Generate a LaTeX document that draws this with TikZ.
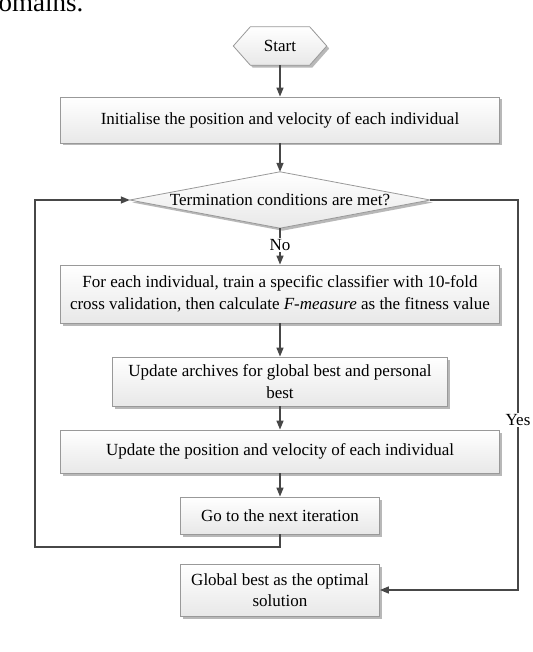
\documentclass[tikz,border=0pt]{standalone}
\usepackage{fontspec}
\setmainfont{Liberation Serif}
\usetikzlibrary{arrows.meta,shadows,calc}
\begin{document}
\begin{tikzpicture}[x=1pt,y=-1pt,
  boxlook/.style={draw=black!40, line width=0.8pt, top color=white, bottom color=black!9,
    drop shadow={shadow xshift=2.5pt,shadow yshift=-2.5pt,fill=black!28,opacity=1}},
  box/.style={boxlook, rectangle, inner sep=0pt, align=center, font=\fontsize{17}{21.5}\selectfont},
  plain/.style={inner sep=0pt, align=center, font=\fontsize{17}{21.5}\selectfont},
  conn/.style={draw=black!72, line width=1.4pt},
  arr/.style={conn, -{Triangle[length=9pt,width=7pt]}},
  lbl/.style={fill=white, inner sep=1.5pt, font=\fontsize{17}{20}\selectfont}]
\useasboundingbox (0,0) rectangle (532,652);
\begin{scope}
\clip (0,0) rectangle (532,652);
\node[anchor=base west, inner sep=0pt, font=\fontsize{27}{27}\selectfont] (dom) at (-15,12) {domains.};
\end{scope}

% Start hexagon
\node[plain, minimum width=93pt, minimum height=38pt] (start) at (280,46) {};
\path[boxlook] (start.west) -- ([xshift=17pt]start.north west) -- ([xshift=-17pt]start.north east)
  -- (start.east) -- ([xshift=-17pt]start.south east) -- ([xshift=17pt]start.south west) -- cycle;
\node[plain] at (start) {Start};

\node[box, minimum width=439pt, minimum height=46pt] (init) at (280,120)
  {Initialise the position and velocity of each individual};

% Decision diamond
\node[plain, minimum width=300pt, minimum height=56pt] (cond) at (280,200) {};
\path[boxlook] (cond.west) -- (cond.north) -- (cond.east) -- (cond.south) -- cycle;
\node[plain] at (cond) {Termination conditions are met?};

\node[box, minimum width=439pt, minimum height=58pt] (train) at (280,294)
  {For each individual, train a specific classifier with 10-fold\\
   cross validation, then calculate \textit{F-measure} as the fitness value};

\node[box, minimum width=335pt, minimum height=49pt] (arch) at (280,381.5)
  {Update archives for global best and personal\\ best};

\node[box, minimum width=439pt, minimum height=43pt] (upd) at (280,451.5)
  {Update the position and velocity of each individual};

\node[box, minimum width=199pt, minimum height=37pt] (next) at (280,515.5)
  {Go to the next iteration};

\node[box, minimum width=199pt, minimum height=52pt] (final) at (280,590)
  {Global best as the optimal\\ solution};

% connectors
\draw[arr] (start.south) -- (init.north);
\draw[arr] (init.south) -- (cond.north);
\draw[arr] (cond.south) -- (train.north) node[lbl, pos=0.47] (no) {No};
\draw[arr] (train.south) -- (arch.north);
\draw[arr] (arch.south) -- (upd.north);
\draw[arr] (upd.south) -- (next.north);

\coordinate (lb) at (35,547);
\draw[arr] (next.south) -- (next.south |- lb) -- (lb) |- (cond.west);

\coordinate (yr) at (518,200);
\draw[arr] (cond.east) -- (yr) |- (final.east);
\node[lbl] (yes) at (518,420) {Yes};
\end{tikzpicture}
\end{document}
